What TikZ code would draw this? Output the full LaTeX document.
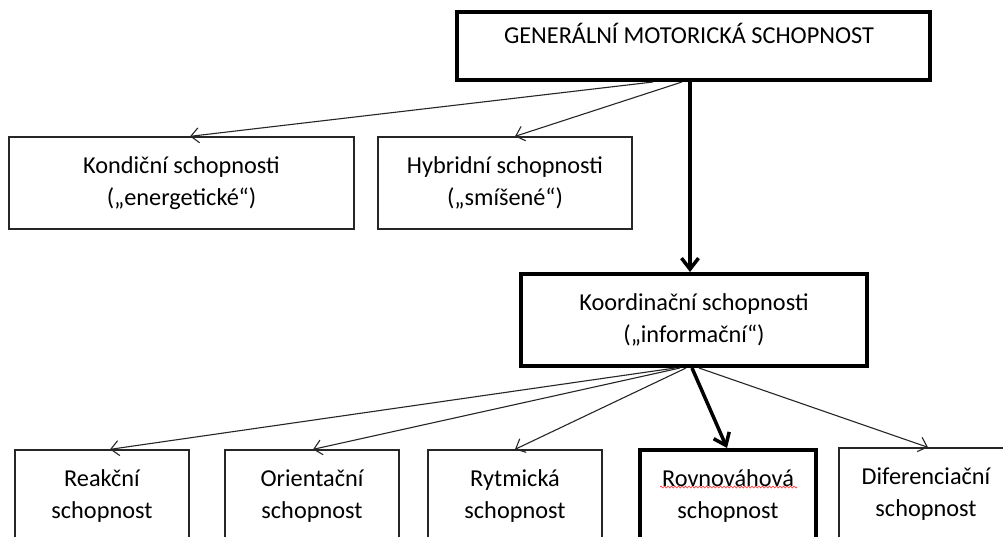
\documentclass[tikz,border=0pt]{standalone}
\usepackage{fontspec}
\setmainfont{Carlito}
\usetikzlibrary{arrows.meta,calc,decorations.pathmorphing}
\begin{document}
\begin{tikzpicture}[x=1pt,y=-1pt,
  label font/.style={font=\fontsize{24.3}{32}\selectfont},
  box/.style={draw=black!85, line width=1.3pt, minimum height=92pt, inner sep=0pt,
    align=center, label font},
  boldbox/.style={box, draw=black, line width=4pt},
  link/.style={draw=black!85, line width=1.1pt,
    -{Straight Barb[length=8pt,width=15pt]}},
  boldlink/.style={draw=black, line width=3.5pt,
    -{Straight Barb[length=11pt,width=17pt]}},
]
\useasboundingbox (0,0) rectangle (1003,536);
\clip (0,0) rectangle (1003,536);
\fill[white] (0,0) rectangle (1003,536);

% top level
\node[boldbox, minimum width=473pt, minimum height=68pt] (gen) at (693.5,46) {};
\node[anchor=base, label font] (gent) at ($(gen.north)+(-4.5,33)$) {GENERÁLNÍ MOTORICKÁ SCHOPNOST};

% second level
\node[box, minimum width=345pt] (kond) at (181.5,183) {Kondiční schopnosti\\(„energetické“)};
\node[box, minimum width=254pt] (hyb) at (505,183) {Hybridní schopnosti\\(„smíšené“)};
\node[boldbox, minimum width=346pt] (koord) at (694,320) {Koordinační schopnosti\\(„informační“)};

% bottom row
\node[box, minimum width=174pt] (reak) at (102,496) {Reakční\\schopnost};
\node[box, minimum width=174pt] (orient) at (312,496) {Orientační\\schopnost};
\node[box, minimum width=174pt] (rytm) at (515,496) {Rytmická\\schopnost};
\node[boldbox, minimum width=176pt] (rovn) at (728,496) {Rovnováhová\\schopnost};
\node[box, minimum width=174pt] (dif) at (926,494) {Diferenciační\\schopnost};

% spell-check squiggle under the first word
\draw[red!75, line width=0.7pt, decorate,
  decoration={snake, amplitude=0.9pt, segment length=3.5pt}]
  ($(rovn.center)+(-68,-9)$) -- ($(rovn.center)+(69,-9)$);

% connectors
\draw[link] ($(gen.south)+(-40.5,0)$) -- ($(kond.north)+(8.5,0)$);
\draw[link] ($(gen.south)+(-11.5,0)$) -- ($(hyb.north)+(10,0)$);
\draw[boldlink] ($(gen.south)+(-3.5,0)$) -- ($(koord.north)+(-4,0)$);

\draw[link] ($(koord.south)+(-19,0)$) -- ($(reak.north)+(8,0)$);
\draw[link] ($(koord.south)+(-14,0)$) -- ($(orient.north)+(1,0)$);
\draw[link] ($(koord.south)+(-8,0)$) -- (rytm.north);
\draw[boldlink] ($(koord.south)+(-2,0)$) -- ($(rovn.north)+(-1,0)$);
\draw[link] ($(koord.south)+(5,0)$) -- ($(dif.north)+(2,0)$);
\end{tikzpicture}
\end{document}
